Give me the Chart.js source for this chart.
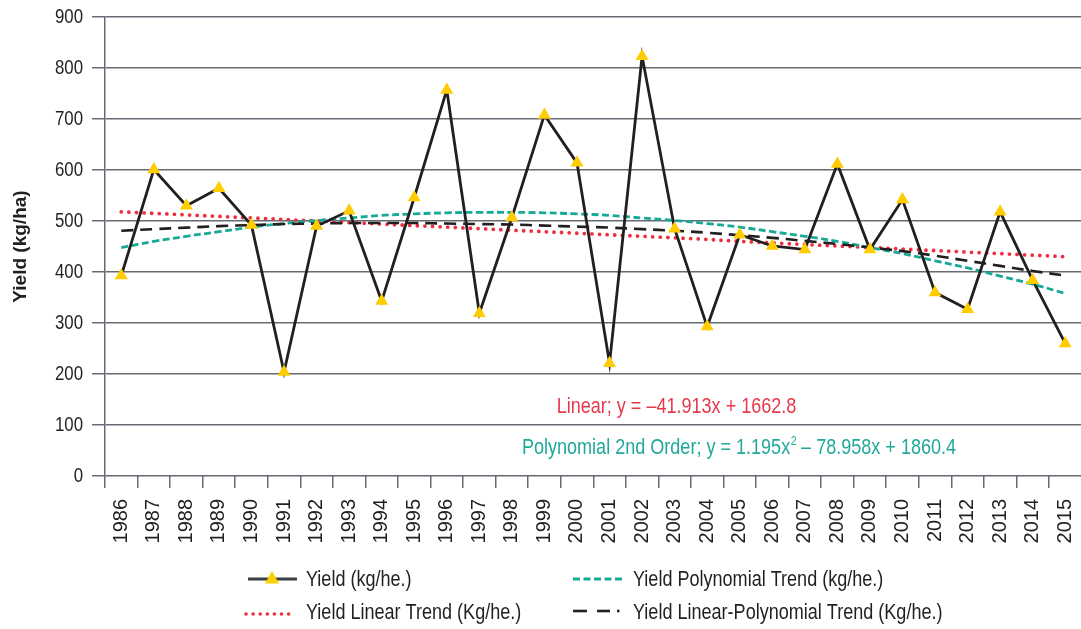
<!DOCTYPE html>
<html>
<head>
<meta charset="utf-8">
<script src="https://cdn.jsdelivr.net/npm/chart.js@4.4.1/dist/chart.umd.min.js"></script>
<style>
  html, body { margin: 0; padding: 0; background: #ffffff; overflow: hidden; }
  #wrap { width: 1081px; height: 629px; position: relative; overflow: hidden; }
  #chart { position: absolute; left: 0; top: 0; }
</style>
</head>
<body>
<div id="wrap"><canvas id="chart" width="1089" height="629"></canvas></div>
<script>
// Crop years
const years = ['1986','1987','1988','1989','1990','1991','1992','1993','1994','1995',
               '1996','1997','1998','1999','2000','2001','2002','2003','2004','2005',
               '2006','2007','2008','2009','2010','2011','2012','2013','2014','2015'];

// Annual yield (kg/ha)
const yieldValues = [393, 601, 530, 564, 492, 204, 490, 520, 343, 546,
                     757, 319, 507, 708, 614, 221, 823, 485, 293, 473,
                     451, 444, 612, 444, 542, 360, 327, 518, 384, 260];

// Linear trend
const linearTrend = [518, 515, 512, 509, 506, 503, 500, 497, 494, 491,
                     488, 485, 482, 479, 476, 473, 470, 467, 464, 460,
                     457, 454, 451, 448, 445, 442, 439, 436, 433, 430];

// Second-order polynomial trend
const polyTrend = [448, 460, 470, 479, 488, 495, 501, 506, 511, 514,
                   516, 517, 517, 516, 514, 511, 506, 501, 495, 488,
                   479, 470, 460, 448, 436, 422, 408, 392, 376, 358];

// Linear-polynomial trend
const linPolyTrend = [481, 484, 487, 490, 492, 494, 495, 496, 496, 496,
                      495, 494, 493, 491, 489, 487, 484, 481, 477, 472,
                      467, 461, 455, 448, 441, 432, 422, 412, 402, 393];

// Y axis ticks
const yMin = 0, yMax = 900, yStep = 100;

const SANS = "'Liberation Sans', Arial, sans-serif";
const NARROW_X = 0.82;          // horizontal squeeze for the condensed lettering
const INK = '#231f20';
const GRID = '#656b72';
const RED = '#ee2e3f';
const TEAL = '#16a996';
const GOLD = '#ffcc00';

// fillText with a horizontal squeeze; returns the drawn width
function narrowText(ctx, text, x, y, align) {
  const w = ctx.measureText(text).width * NARROW_X;
  const left = align === 'center' ? x - w / 2 : align === 'right' ? x - w : x;
  ctx.save();
  ctx.translate(left, y);
  ctx.scale(NARROW_X, 1);
  ctx.textAlign = 'left';
  ctx.fillText(text, 0, 0);
  ctx.restore();
  return w;
}

// Y tick labels, trend equations and legend
const overlay = {
  id: 'overlay',
  afterDraw(chart) {
    const ctx = chart.ctx;
    const yScale = chart.scales.y;
    ctx.save();
    ctx.textBaseline = 'middle';

    // y tick labels
    ctx.fillStyle = INK;
    ctx.font = '20.5px ' + SANS;
    yScale.ticks.forEach(t => {
      narrowText(ctx, String(t.value), chart.chartArea.left - 22, yScale.getPixelForValue(t.value) + 0.5, 'right');
    });

    // equations
    ctx.font = '22px ' + SANS;
    ctx.fillStyle = '#e63a4b';
    narrowText(ctx, 'Linear; y = \u201341.913x + 1662.8', 676.5, 407, 'center');

    const p1 = 'Polynomial 2nd Order; y = 1.195x';
    const p2 = '2';
    const p3 = ' \u2013 78.958x + 1860.4';
    ctx.font = '22px ' + SANS;
    const w1 = ctx.measureText(p1).width * NARROW_X;
    const w3 = ctx.measureText(p3).width * NARROW_X;
    ctx.font = '13px ' + SANS;
    const w2 = ctx.measureText(p2).width * NARROW_X;
    let x = 739 - (w1 + w2 + w3) / 2;
    ctx.fillStyle = '#20a99a';
    ctx.font = '22px ' + SANS;
    narrowText(ctx, p1, x, 448, 'left');
    x += w1;
    ctx.font = '13px ' + SANS;
    narrowText(ctx, p2, x + 0.5, 441, 'left');
    x += w2;
    ctx.font = '22px ' + SANS;
    narrowText(ctx, p3, x, 448, 'left');

    // legend swatches
    ctx.lineCap = 'butt';
    ctx.strokeStyle = '#3b4045';
    ctx.lineWidth = 3;
    ctx.setLineDash([]);
    ctx.beginPath(); ctx.moveTo(248, 579); ctx.lineTo(297, 579); ctx.stroke();
    ctx.fillStyle = GOLD;
    ctx.beginPath();
    ctx.moveTo(272, 571); ctx.lineTo(279, 583.5); ctx.lineTo(265, 583.5); ctx.closePath();
    ctx.fill();

    ctx.strokeStyle = RED;
    ctx.lineWidth = 3.6;
    ctx.lineCap = 'round';
    ctx.setLineDash([0, 7.1]);
    ctx.beginPath(); ctx.moveTo(246, 614); ctx.lineTo(290, 614); ctx.stroke();

    ctx.lineCap = 'butt';
    ctx.strokeStyle = TEAL;
    ctx.lineWidth = 2.8;
    ctx.setLineDash([7, 3.5]);
    ctx.beginPath(); ctx.moveTo(573, 579); ctx.lineTo(623, 579); ctx.stroke();

    ctx.strokeStyle = INK;
    ctx.lineWidth = 2.6;
    ctx.setLineDash([]);
    ctx.beginPath(); ctx.moveTo(573, 611); ctx.lineTo(587, 611); ctx.stroke();
    ctx.beginPath(); ctx.moveTo(597, 611); ctx.lineTo(610, 611); ctx.stroke();
    ctx.beginPath(); ctx.moveTo(617, 611); ctx.lineTo(619.5, 611); ctx.stroke();

    // legend labels
    ctx.fillStyle = INK;
    ctx.font = '22px ' + SANS;
    narrowText(ctx, 'Yield (kg/he.)', 306, 580, 'left');
    narrowText(ctx, 'Yield Linear Trend (Kg/he.)', 306, 613, 'left');
    narrowText(ctx, 'Yield Polynomial Trend (kg/he.)', 633, 580, 'left');
    narrowText(ctx, 'Yield Linear-Polynomial Trend (Kg/he.)', 633, 613, 'left');
    ctx.restore();
  }
};

new Chart(document.getElementById('chart'), {
  type: 'line',
  data: {
    labels: years,
    datasets: [
      {
        label: 'Yield (kg/he.)',
        data: yieldValues,
        borderColor: INK,
        borderWidth: 2.8,
        tension: 0,
        pointStyle: 'triangle',
        pointRadius: 7.5,
        pointBackgroundColor: GOLD,
        pointBorderColor: GOLD,
        pointBorderWidth: 0
      },
      {
        label: 'Yield Linear-Polynomial Trend (Kg/he.)',
        data: linPolyTrend,
        borderColor: INK,
        borderWidth: 2.6,
        borderDash: [12, 7],
        pointRadius: 0,
        tension: 0.4
      },
      {
        label: 'Yield Polynomial Trend (kg/he.)',
        data: polyTrend,
        borderColor: TEAL,
        borderWidth: 2.8,
        borderDash: [7, 3.5],
        pointRadius: 0,
        tension: 0.4
      },
      {
        label: 'Yield Linear Trend (Kg/he.)',
        data: linearTrend,
        borderColor: RED,
        borderWidth: 3.8,
        borderDash: [0, 7.6],
        borderCapStyle: 'round',
        pointRadius: 0,
        tension: 0
      }
    ]
  },
  options: {
    responsive: false,
    animation: false,
    events: [],
    layout: { padding: { left: 0, right: 0, top: 17, bottom: 0 } },
    plugins: {
      legend: { display: false },
      tooltip: { enabled: false }
    },
    scales: {
      x: {
        type: 'category',
        offset: true,
        grid: {
          offset: true,
          drawOnChartArea: false,
          drawTicks: true,
          tickLength: 12,
          color: GRID,
          lineWidth: 1.5
        },
        border: { display: false },
        ticks: {
          autoSkip: false,
          minRotation: 90,
          maxRotation: 90,
          padding: 11,
          color: INK,
          font: { family: SANS, size: 20 }
        },
        afterFit(scale) {
          scale.height = 153;
          scale.paddingLeft = 0;
          scale.paddingRight = 0;
        }
      },
      y: {
        min: yMin,
        max: yMax,
        ticks: {
          stepSize: yStep,
          display: false
        },
        grid: {
          color: GRID,
          lineWidth: 1.5,
          tickLength: 13,
          drawTicks: true
        },
        border: { display: true, color: GRID, width: 1.5 },
        title: {
          display: true,
          text: 'Yield (kg/ha)',
          color: INK,
          font: { family: SANS, size: 19, weight: 'bold', lineHeight: 1.2 },
          padding: { top: 9, bottom: 0 }
        },
        afterFit(scale) {
          scale.width = 105;
          scale.paddingTop = 0;
          scale.paddingBottom = 0;
        }
      }
    }
  },
  plugins: [overlay]
});
</script>
</body>
</html>
